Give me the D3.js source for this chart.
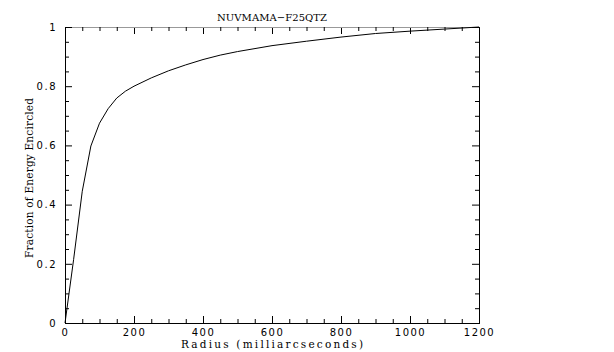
<!DOCTYPE html>
<html><head><meta charset="utf-8">
<script src="https://cdn.jsdelivr.net/npm/d3@7/dist/d3.min.js"></script>
<style>body{margin:0;background:#fff}svg{display:block}text{fill:#000}</style>
</head><body>
<script>
const radius = [0, 25, 50, 75, 100, 125, 150, 175, 200, 250, 300, 350, 400, 450, 500, 600, 700, 800, 900, 1000, 1100, 1200];
const fraction = [0, 0.215, 0.445, 0.598, 0.675, 0.724, 0.760, 0.783, 0.800, 0.828, 0.852, 0.872, 0.890, 0.905, 0.917, 0.937, 0.952, 0.966, 0.978, 0.986, 0.993, 1.0];
const xTicks = [0, 200, 400, 600, 800, 1000, 1200];
const yTicks = [0, 0.2, 0.4, 0.6, 0.8, 1];
const title = "NUVMAMA\u2212F25QTZ";
const xTitle = "Radius (milliarcseconds)";
const yTitle = "Fraction of Energy Encircled";

const W = 614, H = 352;
const L = 65, R = 479, T = 27, B = 323;
const svg = d3.select("body").append("svg").attr("width", W).attr("height", H);
const x = d3.scaleLinear().domain([0, 1200]).range([L, R]);
const y = d3.scaleLinear().domain([0, 1]).range([B, T]);

const fmtY = d => d === 0 ? "0" : d === 1 ? "1" : d3.format(".1f")(d);
const xMinor = d3.range(0, 1201, 50).filter(v => v % 200 !== 0);
const yMinor = d3.range(0, 21).map(i => i / 20).filter(v => Math.round(v * 20) % 4 !== 0);

const bx = svg.append("g").attr("transform", `translate(0,${B})`)
  .call(d3.axisBottom(x).tickValues(xTicks).tickSize(-7).tickPadding(6).tickFormat(d3.format("d")));
bx.append("g").call(d3.axisBottom(x).tickValues(xMinor).tickSize(-4).tickFormat(""));
const tx = svg.append("g").attr("transform", `translate(0,${T})`)
  .call(d3.axisTop(x).tickValues(xTicks).tickSize(-7).tickFormat(""));
tx.append("g").call(d3.axisTop(x).tickValues(xMinor).tickSize(-4).tickFormat(""));
const ly = svg.append("g").attr("transform", `translate(${L},0)`)
  .call(d3.axisLeft(y).tickValues(yTicks).tickSize(-7).tickPadding(8).tickFormat(fmtY));
ly.append("g").call(d3.axisLeft(y).tickValues(yMinor).tickSize(-4).tickFormat(""));
const ry = svg.append("g").attr("transform", `translate(${R},0)`)
  .call(d3.axisRight(y).tickValues(yTicks).tickSize(-7).tickFormat(""));
ry.append("g").call(d3.axisRight(y).tickValues(yMinor).tickSize(-4).tickFormat(""));

svg.selectAll(".domain").attr("stroke", "#000");
tx.selectAll(".domain").attr("stroke", "#999");
svg.selectAll(".tick line").attr("stroke", "#000");
svg.selectAll(".tick text").attr("font-size", 10).attr("letter-spacing", "1.5px")
  .attr("font-family", "DejaVu Sans").attr("fill", "#000");

svg.append("path").datum(radius.map((r, i) => [r, fraction[i]]))
  .attr("fill", "none").attr("stroke", "#000").attr("stroke-width", 1)
  .attr("d", d3.line().x(d => x(d[0])).y(d => y(d[1])));

svg.append("text").attr("x", (L + R) / 2).attr("y", 21).attr("text-anchor", "middle")
  .attr("font-family", "DejaVu Serif").attr("font-size", 10).attr("textLength", 110).attr("lengthAdjust", "spacing").text(title);
svg.append("text").attr("x", (L + R) / 2).attr("y", 348).attr("text-anchor", "middle")
  .attr("font-family", "DejaVu Serif").attr("font-size", 10.5).attr("textLength", 182).attr("lengthAdjust", "spacing").text(xTitle);
svg.append("text").attr("transform", `translate(33,178) rotate(-90)`).attr("text-anchor", "middle")
  .attr("font-family", "DejaVu Serif").attr("font-size", 10.5).attr("textLength", 160).attr("lengthAdjust", "spacing").text(yTitle);
</script>
</body></html>
